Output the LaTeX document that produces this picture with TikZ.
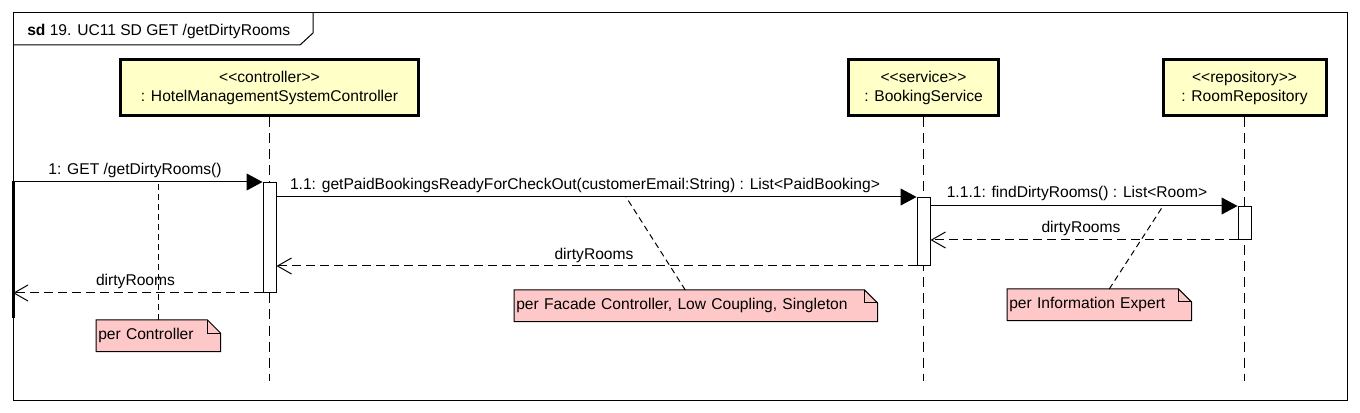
\documentclass[tikz,border=0pt]{standalone}
\usepackage{fontspec}
\setmainfont{Liberation Sans}
\usetikzlibrary{arrows.meta}
\pgfdeclarelayer{background}
\pgfsetlayers{background,main}
\definecolor{lifeyellow}{RGB}{255,255,200}
\definecolor{notepink}{RGB}{255,200,200}
\newcommand\drawnote[1]{%
  \begin{pgfonlayer}{background}
    \fill[notepink] (#1.north west) -- ([xshift=-9.75pt]#1.north east) -- ([yshift=-9.75pt]#1.north east) -- (#1.south east) -- (#1.south west) -- cycle;
  \end{pgfonlayer}
  \draw[line width=0.75pt] (#1.north west) -- ([xshift=-9.75pt]#1.north east) -- ([yshift=-9.75pt]#1.north east) -- (#1.south east) -- (#1.south west) -- cycle;
  \draw[line width=0.75pt] ([xshift=-9.75pt]#1.north east) |- ([yshift=-9.75pt]#1.north east);
}
\begin{document}
\begin{tikzpicture}[x=0.75pt,y=-0.75pt,
  font=\fontsize{11.7}{14}\selectfont,
  lifebox/.style={draw, line width=2.25pt, fill=lifeyellow, minimum height=42pt, align=center, inner sep=0pt},
  actbox/.style={draw, fill=white, line width=0.75pt, minimum width=9.75pt, inner sep=0pt},
  lifeline/.style={line width=0.75pt, dash pattern=on 7.5pt off 4.5pt},
  syncmsg/.style={line width=0.75pt, -{Triangle[length=12pt,width=12.75pt]}},
  retmsg/.style={line width=0.75pt, dash pattern=on 6.75pt off 3.75pt, -{Straight Barb[length=10.5pt,width=12pt]}},
  anchorline/.style={line width=0.75pt, dash pattern=on 4.5pt off 3pt},
  notebox/.style={anchor=north west, minimum height=23.25pt, inner xsep=1.5pt, inner ysep=0pt, align=left},
  lbl/.style={inner sep=0pt}
]
\useasboundingbox (0,0) rectangle (1360,413);
% frame
\draw[line width=0.75pt] (13,13) rectangle (1347,400);
\draw[line width=0.75pt] (13,45) -- (300,45) -- (313,33) -- (313,13);
\node[lbl, anchor=west] (title) at (27,31) {\textbf{sd} 19. UC11 SD GET /getDirtyRooms};

% lifeline heads
\node[lifebox, minimum width=223.5pt] (ctrl) at (269.5,88) {<\kern0pt<controller>\kern0pt>\\: HotelManagementSystemController};
\node[lifebox, minimum width=112.5pt] (svc) at (923.5,88) {<\kern0pt<service>\kern0pt>\\: BookingService};
\node[lifebox, minimum width=122.25pt] (repo) at (1244.5,88) {<\kern0pt<repository>\kern0pt>\\: RoomRepository};

% lifeline ends
\coordinate (e1) at (269.5,381);
\coordinate (e2) at (923.5,381);
\coordinate (e3) at (1244.5,381);
\draw[lifeline] (ctrl.south) -- (e1);
\draw[lifeline] (svc.south) -- (e2);
\draw[lifeline] (repo.south) -- (e3);

% gate bar
\node[fill=black, minimum width=2.25pt, minimum height=102.75pt, inner sep=0pt, anchor=north] (gate) at (13,181) {};

% activations
\node[actbox, minimum height=82.5pt, anchor=north] (a1) at (269.5,182) {};
\node[actbox, minimum height=51pt, anchor=north] (a2) at (923.5,197) {};
\node[actbox, minimum height=24.75pt, anchor=north] (a3) at (1244.5,206) {};

% messages
\draw[syncmsg] (gate.center |- a1.north) -- (a1.north west);
\draw[syncmsg] (a1.east |- a2.north) -- (a2.north west);
\draw[syncmsg] (a2.east |- a3.north) -- (a3.north west);
\draw[retmsg] (a3.south west) -- (a2.east |- a3.south);
\draw[retmsg] (a2.south west) -- (a1.east |- a2.south);
\draw[retmsg] (a1.south west) -- (gate.center |- a1.south);

% message labels
\node[lbl] (l1) at (135,170) {1: GET /getDirtyRooms()};
\node[lbl] (l2) at (585,185) {1.1: getPaidBookingsReadyForCheckOut(customerEmail:String) : List<PaidBooking>};
\node[lbl] (l3) at (1077,193) {1.1.1: findDirtyRooms() : List<Room>};
\node[lbl] (l4) at (1081,228) {dirtyRooms};
\node[lbl] (l5) at (594,255) {dirtyRooms};
\node[lbl] (l6) at (135.5,281) {dirtyRooms};

% notes
\node[notebox, text width=90pt] (n1) at (96,320) {per Controller};
\node[notebox, text width=269.25pt] (n2) at (514,290) {per Facade Controller, Low Coupling, Singleton};
\node[notebox, text width=135pt] (n3) at (1007,289) {per Information Expert};
\drawnote{n1}
\drawnote{n2}
\drawnote{n3}

% note anchors
\coordinate (c1) at (158,182);
\coordinate (c2) at (626,197);
\coordinate (c3) at (1163,206);
\draw[anchorline] (n1.north -| c1) -- (c1);
\draw[anchorline] ([xshift=-7.875pt]n2.north) -- (c2);
\draw[anchorline] ([xshift=7.5pt]n3.north) -- (c3);
\end{tikzpicture}
\end{document}
